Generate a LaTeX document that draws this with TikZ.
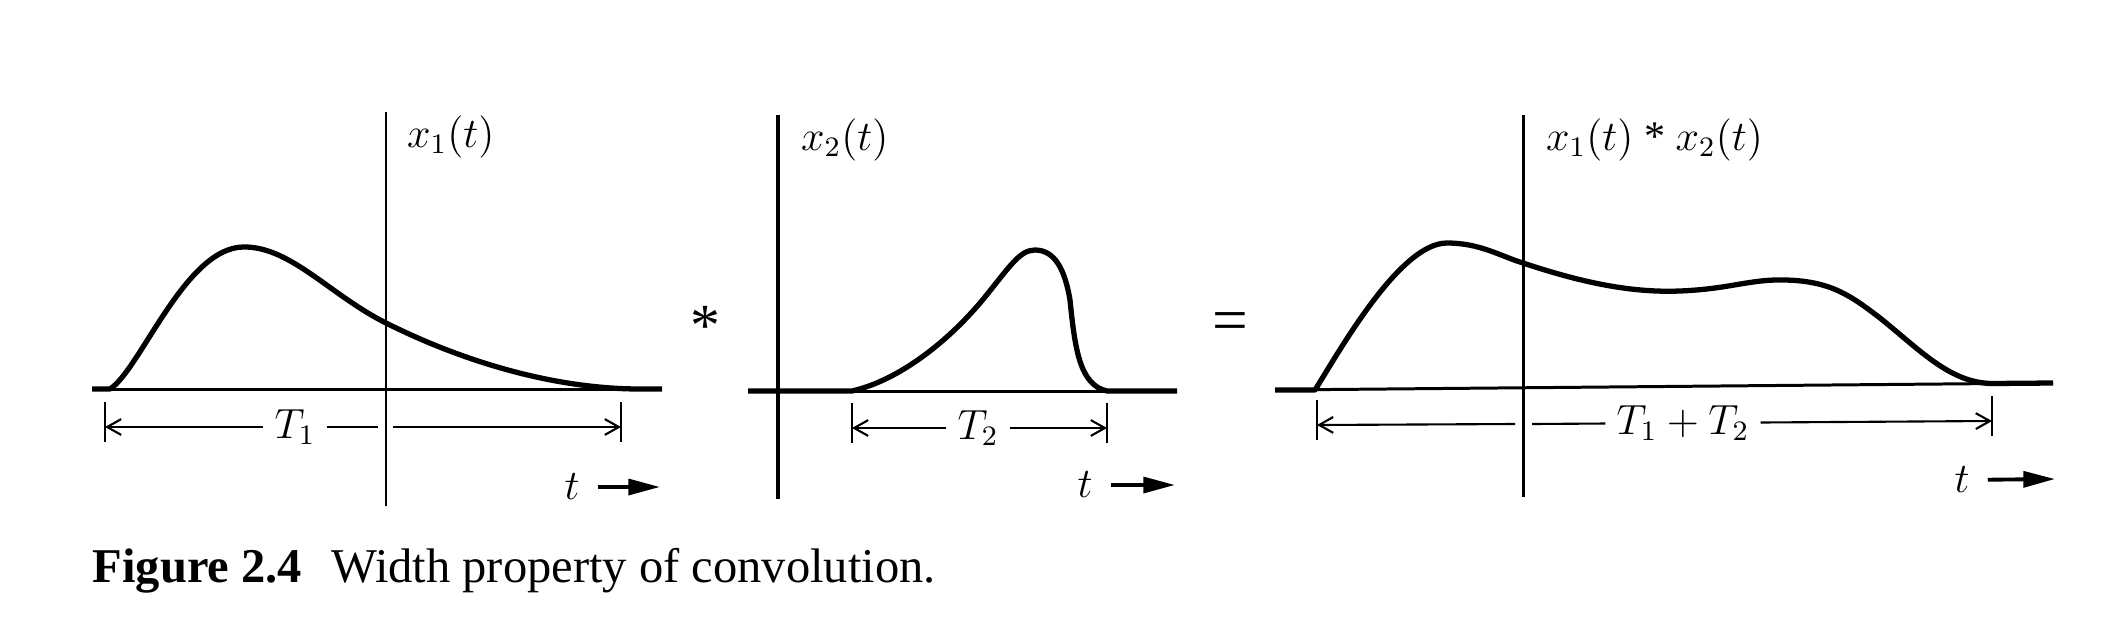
\documentclass[tikz,border=0pt]{standalone}
\usepackage{fontspec}
\setmainfont{Liberation Serif}
\usetikzlibrary{arrows.meta}

\begin{document}
\begin{tikzpicture}[x=0.01cm,y=-0.01cm,
  axis/.style={line width=0.85pt},
  pulse/.style={line width=1.5pt,line join=round},
  dim/.style={line width=0.6pt},
  dimtip/.style={dim,-{Straight Barb[length=4pt,width=4.5pt]}},
  lbl/.style={font=\fontsize{12}{14}\selectfont,inner sep=1pt},
  dimlbl/.style={lbl,inner sep=3pt},
  tarrow/.style={line width=1.1pt,shorten <=4pt,-{Triangle[length=9pt,width=4.5pt]}}]
\useasboundingbox (0,0) rectangle (2126,642);

\coordinate (h1l) at (92,389);
\coordinate (h1r) at (662,389);
\coordinate (v1t) at (386,112);
\coordinate (v1b) at (386,506);
\draw[axis] (h1l) -- (h1r);
\draw[axis] (v1t) -- (v1b);
\draw[pulse] (h1l) -- (110,389) .. controls (140,370) and (185,248) .. (243,247)
  .. controls (290,246) and (330,295) .. (386,323)
  .. controls (470,365) and (560,389) .. (640,389) -- (h1r);
\node[lbl,anchor=west] (x1) at (403,137) {$x_1(t)$};
\coordinate (d1l) at (105,427);
\coordinate (d1r) at (621,427);
\coordinate (g1l) at (378,427);
\coordinate (g1r) at (393,427);
\node[dimlbl] (T1) at (295,427) {$T_1$};
\draw[dim] ([yshift=7pt]d1l) -- ([yshift=-4.3pt]d1l);
\draw[dim] ([yshift=7pt]d1r) -- ([yshift=-4.3pt]d1r);
\draw[dimtip] (T1) -- (d1l);
\draw[dim] (T1) -- (g1l);
\draw[dimtip] (g1r) -- (d1r);
\node[lbl] (t1) at (572,487) {$t$};
\coordinate (a1) at (660,487);
\draw[tarrow] (t1) -- (a1);

\node[font=\fontsize{17}{17}\selectfont] (conv) at (705,326) {*};

\coordinate (h2l) at (748,391);
\coordinate (h2r) at (1177,391);
\coordinate (v2t) at (778,115);
\coordinate (v2b) at (778,499);
\draw[axis] (h2l) -- (h2r);
\draw[axis,line width=1.1pt] (v2t) -- (v2b);
\draw[pulse] (h2l) -- (852,391) .. controls (900,380) and (950,340) .. (985,297)
  .. controls (1010,266) and (1020,250) .. (1035,250)
  .. controls (1055,250) and (1065,270) .. (1070,300)
  .. controls (1075,350) and (1080,385) .. (1107,391) -- (h2r);
\node[lbl,anchor=west] (x2) at (797,140) {$x_2(t)$};
\coordinate (d2l) at (852,428);
\coordinate (d2r) at (1107,428);
\node[dimlbl] (T2) at (978,428) {$T_2$};
\draw[dim] ([yshift=7pt]d2l) -- ([yshift=-4.3pt]d2l);
\draw[dim] ([yshift=7pt]d2r) -- ([yshift=-4.3pt]d2r);
\draw[dimtip] (T2) -- (d2l);
\draw[dimtip] (T2) -- (d2r);
\node[lbl] (t2) at (1085,485) {$t$};
\coordinate (a2) at (1175,485);
\draw[tarrow] (t2) -- (a2);

\node[font=\fontsize{18}{18}\selectfont] (eq) at (1230,327) {=};

\coordinate (h3l) at (1275,390);
\coordinate (h3r) at (2053,383);
\coordinate (v3t) at (1523,115);
\coordinate (v3b) at (1523,497);
\draw[axis] (h3l) -- (h3r);
\draw[axis] (v3t) -- (v3b);
\draw[pulse] (h3l) -- (1315,390) .. controls (1340,350) and (1400,243) .. (1447,243)
  .. controls (1480,243) and (1500,256) .. (1523,263)
  .. controls (1580,282) and (1630,293) .. (1680,291)
  .. controls (1730,289) and (1750,279) .. (1785,280)
  .. controls (1830,281) and (1850,295) .. (1880,318)
  .. controls (1920,350) and (1950,383) .. (1992,383.5) -- (h3r);
\node[lbl,anchor=west] (x12) at (1542,140) {$x_1(t)$ * $x_2(t)$};
\coordinate (d3l) at (1317,425);
\coordinate (d3r) at (1992,421);
\coordinate (g3l) at (1515,424);
\coordinate (g3r) at (1532,424);
\node[dimlbl] (T12) at (1683,423) {$T_1 + T_2$};
\draw[dim] ([yshift=7pt]d3l) -- ([yshift=-4.3pt]d3l);
\draw[dim] ([yshift=7pt]d3r) -- ([yshift=-4.3pt]d3r);
\draw[dimtip] (g3l) -- (d3l);
\draw[dim] (T12) -- (g3r);
\draw[dimtip] (T12) -- (d3r);
\node[lbl] (t3) at (1962,480) {$t$};
\coordinate (a3) at (2055,479);
\draw[tarrow] (t3) -- (a3);

\node[font=\fontsize{13.8}{15}\selectfont,anchor=base west,inner sep=0pt] (cap) at (92,582) {\textbf{Figure 2.4}\hspace{0.6em}Width property of convolution.};
\end{tikzpicture}
\end{document}
